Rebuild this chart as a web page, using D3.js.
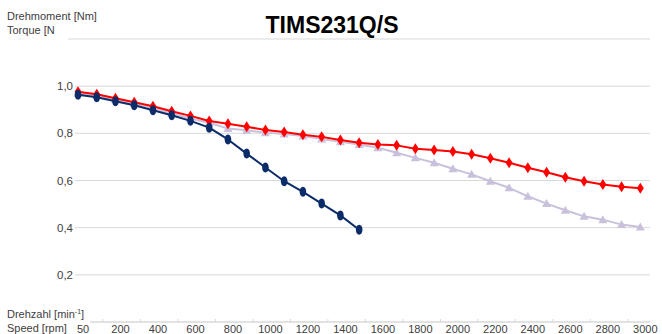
<!DOCTYPE html>
<html>
<head>
<meta charset="utf-8">
<script src="https://cdn.jsdelivr.net/npm/d3@7/dist/d3.min.js"></script>
<style>
  html, body { margin: 0; padding: 0; background: #fff; }
  svg { display: block; font-family: "Liberation Sans", Arial, sans-serif; }
</style>
</head>
<body>
<svg id="chart" width="662" height="334"></svg>
<script>
const categories = [50, 100, 200, 300, 400, 500, 600, 700, 800, 900, 1000, 1100, 1200, 1300, 1400, 1500,
  1600, 1700, 1800, 1900, 2000, 2100, 2200, 2300, 2400, 2500, 2600, 2700, 2800, 2900, 3000];
const tickLabels = [50, 200, 400, 600, 800, 1000, 1200, 1400, 1600, 1800, 2000, 2200, 2400, 2600, 2800, 3000];
const yTicks = [0.2, 0.4, 0.6, 0.8, 1.0, 1.2];
const yTickLabels = ["0,2", "0,4", "0,6", "0,8", "1,0", ""];

const navy = [0.964, 0.953, 0.936, 0.919, 0.898, 0.877, 0.853, 0.824, 0.774, 0.714, 0.655, 0.597, 0.552, 0.502, 0.452, 0.391];
const red = [0.976, 0.966, 0.949, 0.932, 0.915, 0.894, 0.874, 0.852, 0.841, 0.828, 0.814, 0.806, 0.794, 0.785, 0.772, 0.760,
  0.753, 0.749, 0.735, 0.729, 0.723, 0.711, 0.694, 0.675, 0.654, 0.635, 0.614, 0.597, 0.583, 0.573, 0.567];
const lavender = [0.970, 0.960, 0.943, 0.926, 0.907, 0.886, 0.863, 0.845, 0.820, 0.813, 0.803, 0.797, 0.789, 0.776, 0.764, 0.753,
  0.739, 0.718, 0.696, 0.675, 0.650, 0.626, 0.597, 0.569, 0.533, 0.502, 0.474, 0.448, 0.434, 0.413, 0.403];

const svg = d3.select("#chart");
const x = d3.scalePoint().domain(categories).range([78, 640.3]);
const y = d3.scaleLinear().domain([0, 1.2]).range([322, 39]);

// gridlines
svg.append("g").selectAll("line").data(yTicks).join("line")
  .attr("x1", (d) => d === 1.2 ? 68 : 75).attr("x2", 650)
  .attr("y1", (d) => y(d)).attr("y2", (d) => y(d))
  .attr("stroke", "#d9d9d9").attr("stroke-width", 1);

// y labels
svg.append("g").selectAll("text").data(yTicks).join("text")
  .attr("x", 73).attr("y", (d) => y(d) + 4)
  .attr("text-anchor", "end").attr("font-size", 11.5).attr("fill", "#404040")
  .text((d, i) => yTickLabels[i]);

// x axis line
svg.append("line").attr("x1", 90).attr("x2", 650).attr("y1", y(0)).attr("y2", y(0))
  .attr("stroke", "#d9d9d9").attr("stroke-width", 1.5);

// small ticks between labels
svg.append("g").selectAll("line").data(tickLabels.slice(0, -1)).join("line")
  .attr("x1", (d) => x(d) + 25).attr("x2", (d) => x(d) + 25)
  .attr("y1", y(0) - 3).attr("y2", y(0))
  .attr("stroke", "#d9d9d9").attr("stroke-width", 1);

// x labels
svg.append("g").selectAll("text").data(tickLabels).join("text")
  .attr("x", (d) => x(d) + 5).attr("y", 333)
  .attr("text-anchor", "middle").attr("font-size", 11).attr("fill", "#404040")
  .text((d) => d);

// title + axis titles
svg.append("text").attr("x", 332).attr("y", 33).attr("text-anchor", "middle")
  .attr("font-size", 23).attr("font-weight", "bold").attr("fill", "#000").text("TIMS231Q/S");
svg.append("text").attr("x", 7).attr("y", 20).attr("font-size", 11).attr("fill", "#404040").text("Drehmoment [Nm]");
svg.append("text").attr("x", 7).attr("y", 34).attr("font-size", 11).attr("fill", "#404040").text("Torque [N");
const dz = svg.append("text").attr("x", 7).attr("y", 318).attr("font-size", 11).attr("fill", "#404040");
dz.append("tspan").text("Drehzahl [min");
dz.append("tspan").attr("font-size", 7).attr("dy", -4).text("-1");
dz.append("tspan").attr("dy", 4).text("]");
svg.append("text").attr("x", 7).attr("y", 332).attr("font-size", 11).attr("fill", "#404040").text("Speed [rpm]");

const line = d3.line().x((d, i) => x(categories[i])).y((d) => y(d));

function series(data, color, shape) {
  const g = svg.append("g");
  g.append("path").datum(data).attr("d", line).attr("fill", "none")
    .attr("stroke", color).attr("stroke-width", 2).attr("stroke-linejoin", "round");
  g.selectAll("path.m").data(data).join("path").attr("class", "m")
    .attr("transform", (d, i) => `translate(${x(categories[i])},${y(d)})`)
    .attr("d", shape).attr("fill", color);
}
const diamond = "M0,-5.5L3.5,0L0,5.5L-3.5,0Z";
const ellipse = "M0,-5C2.2,-5 3.3,-2.5 3.3,0C3.3,2.5 2.2,5 0,5C-2.2,5 -3.3,2.5 -3.3,0C-3.3,-2.5 -2.2,-5 0,-5Z";
const tri = "M0,-4.5L4.5,3.5L-4.5,3.5Z";

series(lavender, "#c9c1dc", tri);
series(red, "#ff0000", diamond);
series(navy, "#0c2b69", ellipse);
</script>
</body>
</html>
